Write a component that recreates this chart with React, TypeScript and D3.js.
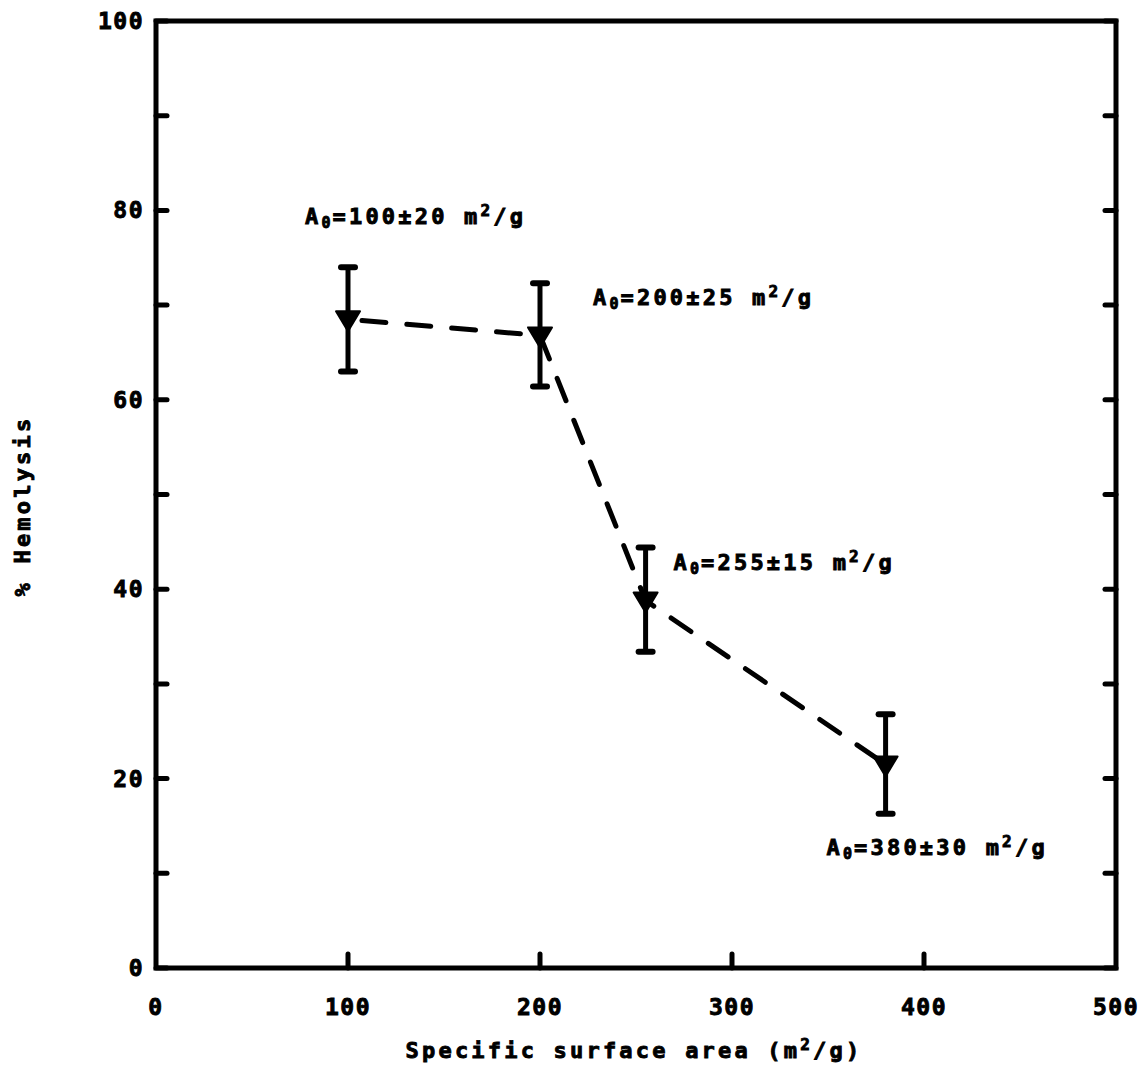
import * as d3 from 'd3'

const surfaceArea = [100, 200, 255, 380]
const hemolysis = [68.5, 66.8, 38.8, 21.5]
const errLow = [63.0, 61.4, 33.4, 16.3]
const errHigh = [74.0, 72.3, 44.4, 26.8]
const areaLabels = ['100±20', '200±25', '255±15', '380±30']
const xTicks = [0, 100, 200, 300, 400, 500]
const yTicks = [0, 20, 40, 60, 80, 100]
const yMinorTicks = [10, 30, 50, 70, 90]

const W = 1145
const H = 1067
const left = 156
const right = 1116
const top = 21
const bottom = 968

// label offsets relative to each point (px)
const labelOffsets = [
  [-43, -95],
  [53, -30],
  [28, -31],
  [-59, 91],
]

const font = '"DejaVu Sans Mono", monospace'

export default function App() {
  const x = d3.scaleLinear().domain([0, 500]).range([left, right])
  const y = d3.scaleLinear().domain([0, 100]).range([bottom, top])

  const line = d3.line<number>()
    .x((d, i) => x(surfaceArea[i]))
    .y(d => y(d))

  const textStyle = {
    fontFamily: font,
    fontWeight: 'bold' as const,
    fontSize: 22,
    letterSpacing: 3.2,
    stroke: '#000',
    strokeWidth: 0.9,
  }
  const tickStyle = { ...textStyle, fontSize: 23, letterSpacing: 1.5 }

  return (
    <svg width={W} height={H} style={{ position: 'absolute', left: 0, top: 0, background: '#fff' }}>
      {/* frame */}
      <rect x={left} y={top} width={right - left} height={bottom - top}
        fill="none" stroke="#000" strokeWidth={5} />

      {/* y ticks, both sides, inward */}
      {[...yTicks, ...yMinorTicks].map(t => (
        <g key={'yt' + t}>
          <line x1={left} x2={left + 11} y1={y(t)} y2={y(t)} stroke="#000" strokeWidth={5} strokeLinecap="round" />
          <line x1={right} x2={right - 11} y1={y(t)} y2={y(t)} stroke="#000" strokeWidth={5} strokeLinecap="round" />
        </g>
      ))}
      {/* x ticks */}
      {xTicks.slice(1, -1).map(t => (
        <line key={'xt' + t} x1={x(t)} x2={x(t)} y1={bottom} y2={bottom - 14} stroke="#000" strokeWidth={5} strokeLinecap="round" />
      ))}

      {/* tick labels */}
      {yTicks.map(t => (
        <text key={'yl' + t} x={left - 12} y={y(t) + 8} textAnchor="end" style={tickStyle}>{t}</text>
      ))}
      {xTicks.map(t => (
        <text key={'xl' + t} x={x(t)} y={1015} textAnchor="middle" style={tickStyle}>{t}</text>
      ))}

      {/* axis titles */}
      <text x={634} y={1058} textAnchor="middle" style={textStyle}>
        Specific surface area (m<tspan dy={-8} fontSize={16}>2</tspan><tspan dy={8}>/g)</tspan>
      </text>
      <text transform={`translate(30,506) rotate(-90)`} textAnchor="middle" style={textStyle}>% Hemolysis</text>

      {/* dashed line */}
      <path d={line(hemolysis) || ''} fill="none" stroke="#000" strokeWidth={5}
        strokeDasharray="24 21" strokeDashoffset={-14} strokeLinecap="round" />

      {/* error bars and markers */}
      {surfaceArea.map((a, i) => {
        const cx = x(a)
        const cy = y(hemolysis[i])
        return (
          <g key={'p' + i}>
            <line x1={cx} x2={cx} y1={y(errLow[i])} y2={y(errHigh[i])} stroke="#000" strokeWidth={5} />
            <line x1={cx - 7} x2={cx + 7} y1={y(errLow[i])} y2={y(errLow[i])} stroke="#000" strokeWidth={6} strokeLinecap="round" />
            <line x1={cx - 7} x2={cx + 7} y1={y(errHigh[i])} y2={y(errHigh[i])} stroke="#000" strokeWidth={6} strokeLinecap="round" />
            <path d={`M${cx - 12},${cy - 8} L${cx + 12},${cy - 8} L${cx},${cy + 12} Z`} fill="#000" stroke="#000" strokeWidth={2} strokeLinejoin="round" />
          </g>
        )
      })}

      {/* annotations */}
      {surfaceArea.map((a, i) => (
        <text key={'lab' + i} x={x(a) + labelOffsets[i][0]} y={y(hemolysis[i]) + labelOffsets[i][1]} style={textStyle}>
          A<tspan dy={4} fontSize={15} letterSpacing={2}>0</tspan><tspan dy={-4}>={areaLabels[i]} m</tspan>
          <tspan dy={-8} fontSize={16}>2</tspan><tspan dy={8}>/g</tspan>
        </text>
      ))}
    </svg>
  )
}
